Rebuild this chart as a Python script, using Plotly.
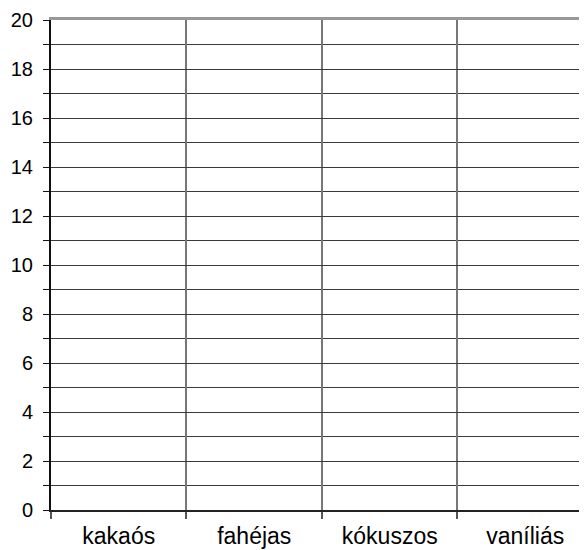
import plotly.graph_objects as go

categories = ["kakaós", "fahéjas", "kókuszos", "vaníliás"]
values = [None, None, None, None]
y_ticks = [0, 2, 4, 6, 8, 10, 12, 14, 16, 18, 20]

fig = go.Figure()
fig.add_trace(go.Bar(x=categories, y=values, showlegend=False, hoverinfo="skip"))
# invisible trace to activate the top axis line
fig.add_trace(go.Bar(x=categories, y=values, xaxis="x2", showlegend=False, hoverinfo="skip"))

fig.update_layout(
    width=579, height=542,
    margin=dict(l=43, r=0, t=12, b=40),
    paper_bgcolor="white", plot_bgcolor="white",
    font=dict(family="Liberation Sans, Arial, sans-serif", color="black"),
    xaxis=dict(
        type="category",
        range=[-0.5, 3.456],
        tickson="boundaries",
        ticks="outside", ticklen=7, tickcolor="#555", tickwidth=1.5,
        showgrid=True, gridcolor="#777", gridwidth=1.5,
        showline=True, linecolor="#222", linewidth=2,
        tickfont=dict(size=23),
        ticklabelstandoff=4,
        zeroline=False,
    ),
    xaxis2=dict(
        overlaying="x", side="top", type="category",
        range=[-0.5, 3.456],
        showline=True, linecolor="#999", linewidth=2.5,
        showticklabels=False, ticks="", showgrid=False, zeroline=False,
    ),
    yaxis=dict(
        range=[0, 20],
        tickvals=y_ticks, ticktext=[str(v) for v in y_ticks],
        ticks="outside", ticklen=6, tickcolor="#111", tickwidth=1,
        showgrid=True, gridcolor="#3a3a3a", gridwidth=1,
        minor=dict(dtick=1, tick0=0, ticks="outside", ticklen=6, tickcolor="#111",
                   showgrid=True, gridcolor="#3a3a3a", gridwidth=1),
        showline=True, linecolor="#111", linewidth=2,
        tickfont=dict(size=20),
        ticklabelstandoff=6,
        zeroline=False,
    ),
)

fig.write_html("out.html")
